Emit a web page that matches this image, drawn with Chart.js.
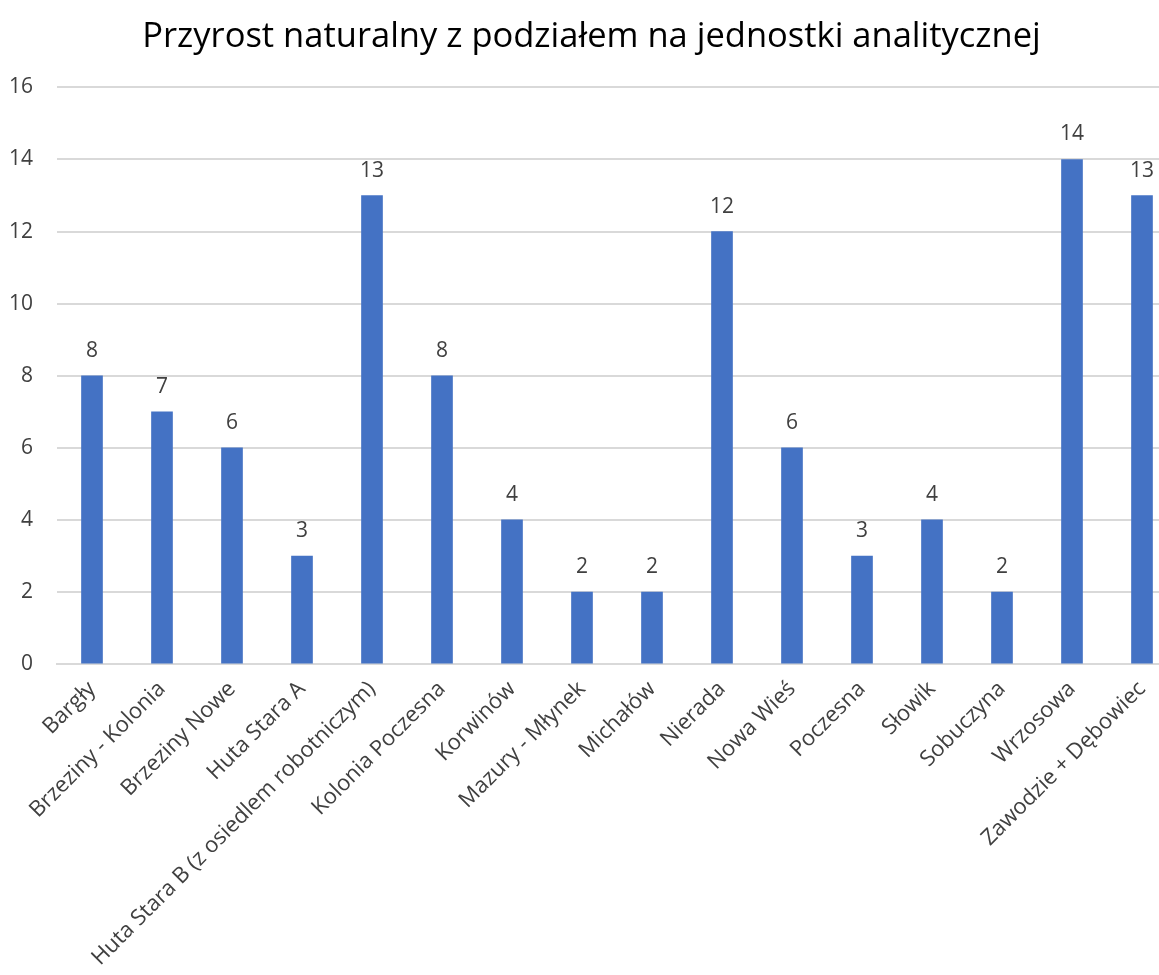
<!DOCTYPE html>
<html>
<head>
<meta charset="utf-8">
<script src="https://cdn.jsdelivr.net/npm/chart.js@4.4.1/dist/chart.umd.min.js"></script>
<style>
  html, body { margin: 0; padding: 0; background: #fff; overflow: hidden; }
  #wrap { width: 1194px; height: 975px; }
</style>
</head>
<body>
<div id="wrap"><canvas id="bar-chart"></canvas></div>
<script>
var categories = [
    "Bargły", "Brzeziny - Kolonia", "Brzeziny Nowe", "Huta Stara A",
    "Huta Stara B (z osiedlem robotniczym)", "Kolonia Poczesna", "Korwinów",
    "Mazury - Młynek", "Michałów", "Nierada", "Nowa Wieś", "Poczesna",
    "Słowik", "Sobuczyna", "Wrzosowa", "Zawodzie + Dębowiec"
];
var values = [8, 7, 6, 3, 13, 8, 4, 2, 2, 12, 6, 3, 4, 2, 14, 13];
var yTicks = [0, 2, 4, 6, 8, 10, 12, 14, 16];

var fontFamily = "'Open Sans', 'Noto Sans', sans-serif";

// value labels above each bar
var valueLabels = {
    id: "valueLabels",
    afterDatasetsDraw: function (chart) {
        var ctx = chart.ctx;
        var meta = chart.getDatasetMeta(0);
        ctx.save();
        ctx.font = "21px " + fontFamily;
        ctx.fillStyle = "#404040";
        ctx.textAlign = "center";
        ctx.textBaseline = "alphabetic";
        meta.data.forEach(function (bar, i) {
            ctx.fillText(String(values[i]), bar.x, bar.y - 19);
        });
        ctx.restore();
    }
};

var ctx = document.getElementById("bar-chart").getContext("2d");

new Chart(ctx, {
    type: "bar",
    data: {
        labels: categories,
        datasets: [
            {
                data: values,
                backgroundColor: "#4472C4",
                borderWidth: 0,
                barThickness: 21,
            },
        ],
    },
    options: {
        responsive: true,
        maintainAspectRatio: false,
        animation: false,
        layout: {
            padding: { left: 6, right: 17, top: 0, bottom: 0 },
        },
        plugins: {
            legend: { display: false },
            tooltip: { enabled: false },
            title: {
                display: true,
                text: "Przyrost naturalny z podziałem na jednostki analitycznej",
                color: "#000",
                font: { family: fontFamily, size: 34.5, weight: "normal" },
                padding: { top: 16, bottom: 30 },
            },
        },
        scales: {
            x: {
                grid: { display: false },
                border: { color: "#d9d9d9", width: 2 },
                afterFit: function (axis) {
                    axis.paddingLeft = 0;
                    axis.paddingRight = 0;
                },
                ticks: {
                    color: "#404040",
                    font: { family: fontFamily, size: 22 },
                    maxRotation: 45,
                    minRotation: 45,
                    autoSkip: false,
                    padding: 4,
                },
            },
            y: {
                min: 0,
                max: 16,
                afterBuildTicks: function (axis) {
                    axis.ticks = yTicks.map(function (v) { return { value: v }; });
                },
                afterFit: function (axis) {
                    axis.width = 51;
                },
                grid: { color: "#d9d9d9", lineWidth: 2, drawTicks: false },
                border: { display: false },
                ticks: {
                    color: "#404040",
                    font: { family: fontFamily, size: 21 },
                    padding: 24,
                },
            },
        },
    },
    plugins: [valueLabels],
});
</script>
</body>
</html>
